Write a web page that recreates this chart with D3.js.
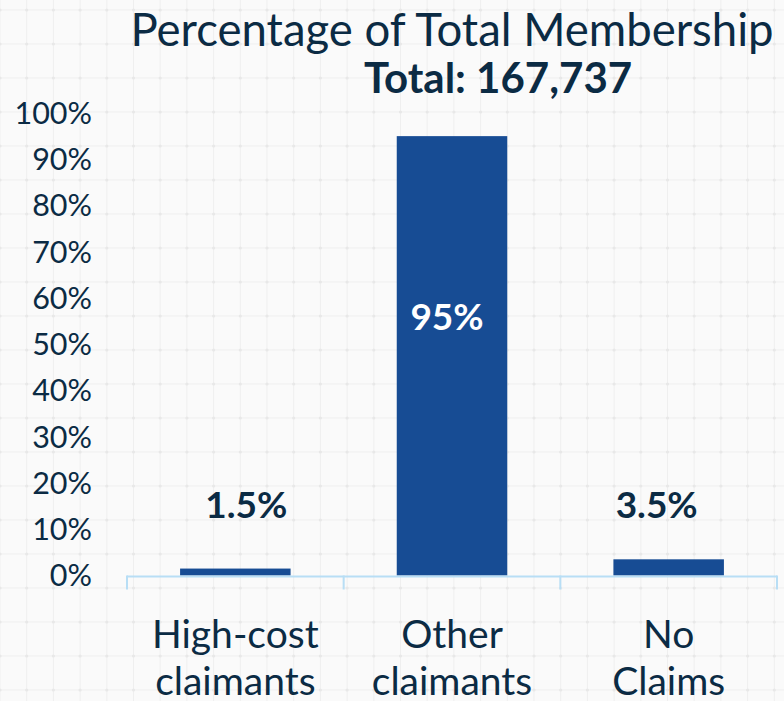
<!DOCTYPE html>
<html>
<head>
<meta charset="utf-8">
<script src="https://cdn.jsdelivr.net/npm/d3@7"></script>
<style>
  body { margin: 0; background: #fafafa; }
  text { font-family: Lato, "Open Sans", sans-serif; }
</style>
</head>
<body>
<div id="chart"></div>
<script>
var categories = ["High-cost claimants", "Other claimants", "No Claims"];
var categoryLines = [["High-cost", "claimants"], ["Other", "claimants"], ["No", "Claims"]];
var values = [1.5, 95, 3.5];
var valueLabels = ["1.5%", "95%", "3.5%"];
var yTicks = [0, 10, 20, 30, 40, 50, 60, 70, 80, 90, 100];
var title = "Percentage of Total Membership";
var subtitle = "Total: 167,737";

var W = 784, H = 701;
var margin = { top: 113, left: 127, right: 7, bottom: 125 };
// small horizontal nudges for the value labels, as in the original slide
var labelNudge = [11, -5, -12];

var svg = d3.select("#chart").append("svg")
  .attr("width", W)
  .attr("height", H);

// faint background grid, dots on the crossings
var gx = d3.range(0, W, 26.7), gy = d3.range(10, H, 34);
var grid = svg.append("g").attr("class", "grid");
grid.selectAll("line.v")
  .data(gx)
  .enter().append("line")
  .attr("x1", function(d) { return d; })
  .attr("x2", function(d) { return d; })
  .attr("y1", 0).attr("y2", H)
  .attr("stroke", "#efefef").attr("stroke-width", 1);
grid.selectAll("line.h")
  .data(gy)
  .enter().append("line")
  .attr("y1", function(d) { return d; })
  .attr("y2", function(d) { return d; })
  .attr("x1", 0).attr("x2", W)
  .attr("stroke", "#efefef").attr("stroke-width", 1);
gy.forEach(function(y) {
  grid.selectAll(null)
    .data(gx)
    .enter().append("circle")
    .attr("cx", function(d) { return d; })
    .attr("cy", y)
    .attr("r", 1.6)
    .attr("fill", "#e8e8e8");
});

var xScale = d3.scaleBand()
  .domain(categories)
  .range([margin.left, W - margin.right])
  .paddingInner(0.49)
  .paddingOuter(0.245);

var yScale = d3.scaleLinear()
  .domain([0, 100])
  .range([H - margin.bottom - 0.5, margin.top]);

// title
svg.append("text")
  .attr("x", 452).attr("y", 46)
  .attr("text-anchor", "middle")
  .attr("font-size", 45.5)
  .attr("fill", "#0b2b44")
  .text(title);
svg.append("text")
  .attr("x", 498).attr("y", 93)
  .attr("text-anchor", "middle")
  .attr("font-size", 42)
  .attr("font-weight", "bold")
  .attr("fill", "#0b2b44")
  .text(subtitle);

// y labels (no axis line)
svg.selectAll("text.ytick")
  .data(yTicks)
  .enter().append("text")
  .attr("class", "ytick")
  .attr("x", 92)
  .attr("y", function(d) { return yScale(d); })
  .attr("dy", "0.36em")
  .attr("text-anchor", "end")
  .attr("font-size", 30.5)
  .attr("fill", "#0b2b44")
  .text(function(d) { return d + "%"; });

// bars
svg.selectAll("rect.bar")
  .data(values)
  .enter().append("rect")
  .attr("class", "bar")
  .attr("x", function(d, i) { return xScale(categories[i]); })
  .attr("width", xScale.bandwidth())
  .attr("y", function(d) { return yScale(d); })
  .attr("height", function(d) { return yScale(0) - yScale(d); })
  .attr("fill", "#174c94");

// x axis with ticks between categories
var x0 = margin.left, x1 = W - margin.right;
var step = (x1 - x0) / categories.length;
var axis = svg.append("g").attr("class", "x-axis");
axis.append("line")
  .attr("x1", x0).attr("x2", x1)
  .attr("y1", yScale(0) + 1).attr("y2", yScale(0) + 1)
  .attr("stroke", "#b8def5").attr("stroke-width", 2);
axis.selectAll("line.tick")
  .data(d3.range(categories.length + 1))
  .enter().append("line")
  .attr("class", "tick")
  .attr("x1", function(d) { return x0 + d * step; })
  .attr("x2", function(d) { return x0 + d * step; })
  .attr("y1", yScale(0)).attr("y2", yScale(0) + 14)
  .attr("stroke", "#b8def5").attr("stroke-width", 2);

// category labels
svg.selectAll("text.cat")
  .data(categoryLines)
  .enter().append("text")
  .attr("class", "cat")
  .attr("x", function(d, i) { return xScale(categories[i]) + xScale.bandwidth() / 2; })
  .attr("y", 648)
  .attr("text-anchor", "middle")
  .attr("font-size", 39)
  .attr("fill", "#0b2b44")
  .each(function(lines) {
    var t = d3.select(this);
    lines.forEach(function(l, k) {
      t.append("tspan")
        .attr("x", t.attr("x"))
        .attr("dy", k === 0 ? 0 : 47)
        .text(l);
    });
  });

// value labels
svg.selectAll("text.val")
  .data(values)
  .enter().append("text")
  .attr("class", "val")
  .attr("x", function(d, i) { return xScale(categories[i]) + xScale.bandwidth() / 2 + labelNudge[i]; })
  .attr("y", function(d, i) { return i === 1 ? 330 : 518; })
  .attr("text-anchor", "middle")
  .attr("font-size", 37)
  .attr("font-weight", "bold")
  .attr("fill", function(d, i) { return i === 1 ? "#ffffff" : "#0b2b44"; })
  .text(function(d, i) { return valueLabels[i]; });
</script>
</body>
</html>
